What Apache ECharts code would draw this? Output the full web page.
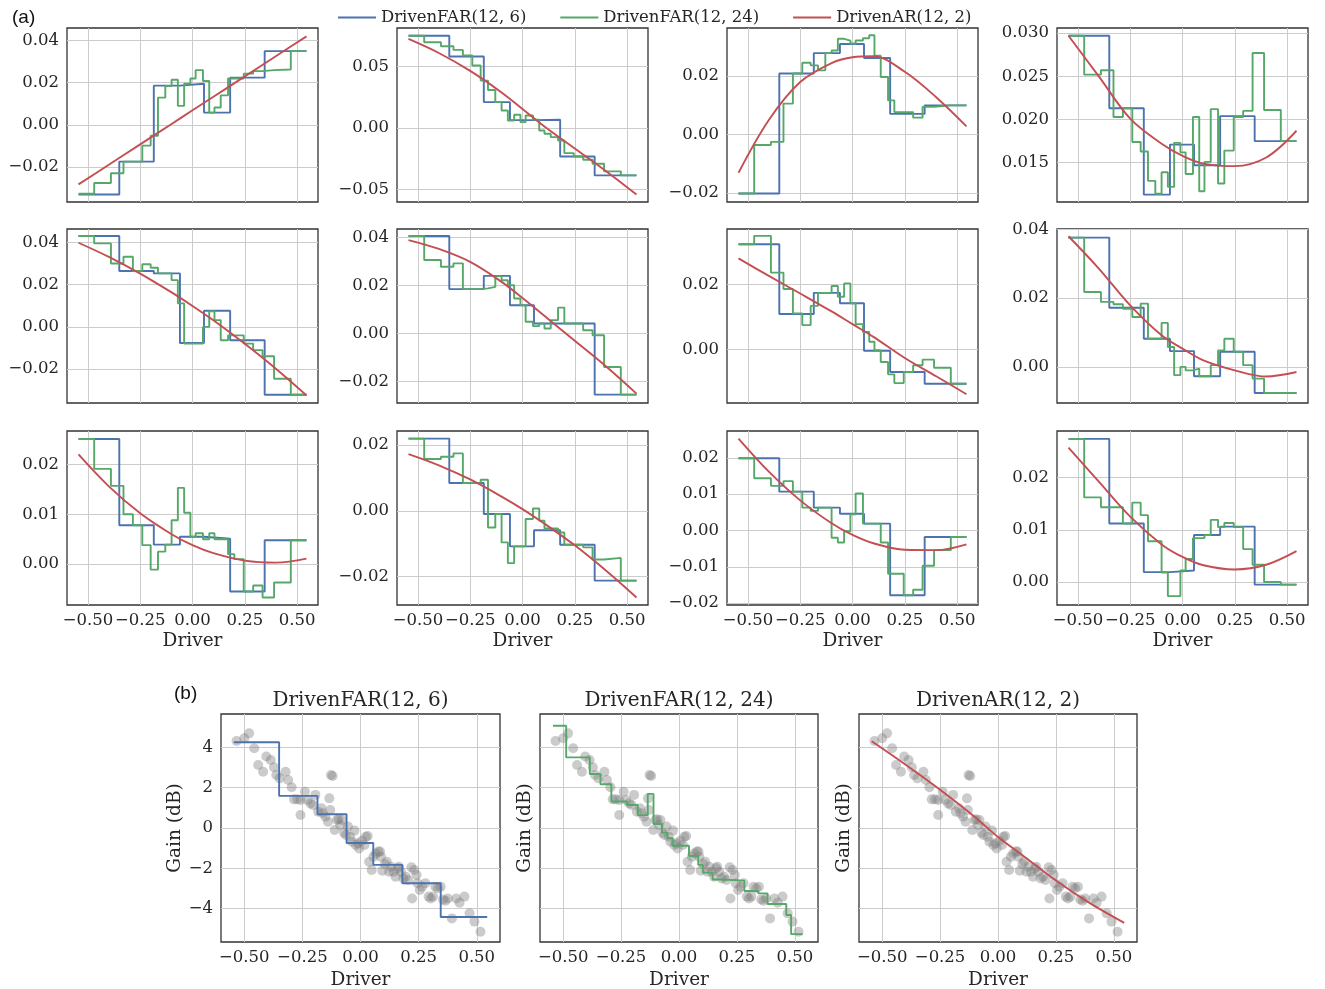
<!DOCTYPE html>
<html>
<head>
<meta charset="utf-8">
<script src="https://cdn.jsdelivr.net/npm/echarts@6/dist/echarts.min.js"></script>
<style>
  html, body { margin: 0; padding: 0; background: #fff; }
  #chart { width: 1325px; height: 989px; }
</style>
</head>
<body>
<div id="chart"></div>
<script>
// series names and tick values
const modelNames = ['DrivenFAR(12, 6)', 'DrivenFAR(12, 24)', 'DrivenAR(12, 2)'];
const xTicks = [-0.5, -0.25, 0, 0.25, 0.5];

// bin edges of the two step models, x samples of the AR fit
const edges6 = [-0.545, -0.35, -0.185, -0.06, 0.055, 0.18, 0.345, 0.545];
const edges24 = [-0.545, -0.47, -0.39, -0.33, -0.285, -0.24, -0.2, -0.165, -0.13, -0.1, -0.07, -0.04, -0.01,
  0.015, 0.05, 0.08, 0.105, 0.135, 0.17, 0.2, 0.245, 0.29, 0.335, 0.39, 0.47, 0.545];
const fitX = [-0.545, -0.4, -0.25, -0.1, 0, 0.1, 0.25, 0.4, 0.545];

// (a) one row per panel, read left to right, top to bottom
const blueSteps = [
  [-0.0331, -0.0175, 0.0186, 0.0195, 0.0058, 0.0224, 0.035],
  [0.075, 0.0581, 0.0211, 0.0065, 0.0068, -0.023, -0.0384],
  [-0.0202, 0.0209, 0.0279, 0.031, 0.0262, 0.0071, 0.01],
  [0.0297, 0.0213, 0.0113, 0.0171, 0.0147, 0.0204, 0.0175],
  [0.043, 0.0264, 0.0253, -0.0076, 0.0076, -0.0063, -0.0321],
  [0.0406, 0.0185, 0.024, 0.0118, 0.0042, 0.0042, -0.0254],
  [0.0323, 0.0109, 0.0174, 0.0142, -0.0004, -0.0069, -0.0105],
  [0.0376, 0.0172, 0.0082, 0.0046, -0.0027, 0.0044, -0.0076],
  [0.0251, 0.0078, 0.0039, 0.0055, 0.0051, -0.0055, 0.0048],
  [0.0219, 0.0084, -0.001, -0.0108, -0.0059, -0.0103, -0.0212],
  [0.0199, 0.0107, 0.0063, 0.0046, 0.0019, -0.0178, -0.0018],
  [0.0274, 0.0112, 0.0019, 0.0022, 0.009, 0.0106, -0.0005]
];
const greenSteps = [
  [-0.0328, -0.0277, -0.023, -0.0175, -0.0175, -0.0099, -0.0052, 0.0129, 0.0184, 0.0214, 0.009, 0.0195, 0.022,
    0.026, 0.0208, 0.0058, 0.0082, 0.014, 0.022, 0.022, 0.0243, 0.0255, 0.026, 0.0263, 0.035],
  [0.075, 0.0697, 0.0665, 0.0635, 0.059, 0.0508, 0.0386, 0.031, 0.0211, 0.0143, 0.0062, 0.0108, 0.0049,
    0.0103, 0.0068, -0.0019, -0.0046, -0.0073, -0.01, -0.0203, -0.023, -0.0257, -0.0289, -0.0351, -0.0384],
  [-0.0202, -0.0036, -0.0025, 0.0106, 0.0209, 0.0246, 0.0237, 0.022, 0.0279, 0.0288, 0.0328, 0.0322, 0.0312,
    0.0322, 0.033, 0.034, 0.027, 0.0197, 0.0117, 0.0077, 0.0077, 0.0058, 0.0095, 0.01, 0.01],
  [0.0297, 0.0252, 0.0257, 0.0203, 0.0213, 0.0174, 0.0163, 0.0129, 0.0114, 0.0139, 0.0122, 0.0173, 0.0162,
    0.0137, 0.0203, 0.0117, 0.0151, 0.0212, 0.0126, 0.0164, 0.0203, 0.021, 0.0277, 0.0211, 0.0175],
  [0.043, 0.0395, 0.03, 0.0332, 0.0264, 0.0296, 0.028, 0.0253, 0.0253, 0.0221, 0.0111, -0.0079, -0.0079,
    -0.0079, 0.0, 0.0074, 0.0032, -0.0063, -0.004, -0.004, -0.0079, -0.011, -0.0139, -0.0245, -0.0321],
  [0.0406, 0.0306, 0.0278, 0.0292, 0.0185, 0.0185, 0.0188, 0.0194, 0.0239, 0.0222, 0.0201, 0.0146, 0.0118,
    0.0049, 0.0031, 0.0042, 0.0021, 0.0056, 0.0108, 0.0042, 0.0042, 0.0014, -0.0007, -0.0139, -0.0254],
  [0.0323, 0.0349, 0.0236, 0.0186, 0.0111, 0.0075, 0.0134, 0.0174, 0.0174, 0.0195, 0.0162, 0.0203, 0.0142,
    0.0078, 0.0054, 0.0024, -0.0002, -0.0038, -0.0076, -0.0103, -0.0069, -0.0048, -0.0031, -0.0056, -0.0105],
  [0.0376, 0.0218, 0.0189, 0.0182, 0.0169, 0.0145, 0.0184, 0.0082, 0.0082, 0.0128, 0.0058, -0.0024, 0.0,
    -0.001, -0.0005, -0.0027, -0.0027, 0.0005, 0.0048, 0.0082, 0.0044, 0.0005, -0.0034, -0.0076, -0.0076],
  [0.0251, 0.0191, 0.0157, 0.01, 0.0078, 0.0038, -0.0011, 0.0025, 0.0039, 0.0088, 0.0153, 0.0103, 0.0055,
    0.0062, 0.005, 0.0062, 0.005, 0.005, 0.002, 0.001, -0.0055, -0.0043, -0.0067, -0.0037, 0.0048],
  [0.0219, 0.0157, 0.0164, 0.0174, 0.0084, 0.0084, 0.0094, -0.0051, -0.001, -0.0096, -0.0159, -0.0108, -0.0108,
    -0.0025, 0.0007, -0.003, -0.0054, -0.0054, -0.0066, -0.0103, -0.0103, -0.0111, -0.0148, -0.0143, -0.0212],
  [0.0199, 0.0144, 0.0123, 0.0136, 0.0107, 0.0063, 0.0054, 0.0063, 0.0063, -0.002, -0.0033, -0.0002, 0.0045,
    0.0102, 0.0019, 0.0019, 0.0019, -0.0033, -0.0119, -0.0119, -0.0178, -0.0163, -0.0097, -0.0054, -0.0018],
  [0.0274, 0.0162, 0.0143, 0.0143, 0.0112, 0.0152, 0.0128, 0.0078, 0.0078, 0.0018, -0.0027, -0.0027, 0.0022,
    0.0044, 0.0084, 0.0084, 0.009, 0.0119, 0.0105, 0.0113, 0.0105, 0.0063, 0.0033, 0.0, -0.0005]
];
const redFit = [
  [-0.0283, -0.019, -0.0093, 0.0004, 0.0069, 0.0133, 0.023, 0.0327, 0.042],
  [0.0724, 0.061, 0.0465, 0.029, 0.0155, 0.002, -0.0165, -0.035, -0.054],
  [-0.0131, 0.005, 0.018, 0.0245, 0.0265, 0.0268, 0.0215, 0.0128, 0.0028],
  [0.0297, 0.025, 0.0201, 0.0172, 0.0158, 0.0149, 0.0146, 0.0156, 0.0187],
  [0.0398, 0.0331, 0.0252, 0.0163, 0.0099, 0.0031, -0.008, -0.0199, -0.0324],
  [0.0389, 0.0352, 0.0298, 0.0215, 0.0148, 0.0077, -0.003, -0.0137, -0.025],
  [0.028, 0.0226, 0.0172, 0.0117, 0.0078, 0.0039, -0.0026, -0.0082, -0.0137],
  [0.038, 0.0286, 0.0179, 0.0092, 0.0053, 0.0019, -0.001, -0.0028, -0.0015],
  [0.022, 0.0156, 0.0102, 0.006, 0.0038, 0.0022, 0.0007, 0.0003, 0.0011],
  [0.0172, 0.0138, 0.0095, 0.0043, 0.0005, -0.0037, -0.0105, -0.0182, -0.0263],
  [0.0253, 0.0162, 0.0083, 0.002, -0.0012, -0.0035, -0.0053, -0.0054, -0.0038],
  [0.0257, 0.0192, 0.0125, 0.0072, 0.0048, 0.0032, 0.0024, 0.0033, 0.0059]
];
const yRanges = [
  [-0.0367, 0.046], [-0.06, 0.0813], [-0.0231, 0.0365], [0.01045, 0.0306],
  [-0.036, 0.0463], [-0.0289, 0.0435], [-0.0164, 0.037], [-0.0105, 0.0401],
  [-0.0082, 0.0267], [-0.0286, 0.0242], [-0.0205, 0.0274], [-0.0044, 0.0289]
];
const yTicks = [
  [-0.02, 0, 0.02, 0.04], [-0.05, 0, 0.05], [-0.02, 0, 0.02], [0.015, 0.02, 0.025, 0.03],
  [-0.02, 0, 0.02, 0.04], [-0.02, 0, 0.02, 0.04], [0, 0.02], [0, 0.02, 0.04],
  [0, 0.01, 0.02], [-0.02, 0, 0.02], [-0.02, -0.01, 0, 0.01, 0.02], [0, 0.01, 0.02]
];
const yDigits = [2, 2, 2, 3, 2, 2, 2, 2, 2, 2, 2, 2];

// (b) gain vs driver
const gainX = [-0.533, -0.500, -0.479, -0.457, -0.440, -0.419, -0.405, -0.386, -0.372, -0.362,
  -0.348, -0.322, -0.311, -0.296, -0.286, -0.272, -0.258, -0.239, -0.228, -0.215,
  -0.204, -0.258, -0.194, -0.182, -0.168, -0.162, -0.151, -0.140, -0.130, -0.127,
  -0.120, -0.134, -0.111, -0.101, -0.094, -0.087, -0.080, -0.071, -0.063, -0.054,
  -0.044, -0.037, -0.026, -0.020, -0.011, -0.006, 0.006, 0.017, 0.023, 0.031,
  0.037, 0.048, 0.056, 0.066, 0.077, 0.084, 0.088, 0.094, 0.105, 0.113,
  0.123, 0.131, 0.141, 0.151, 0.160, 0.165, 0.174, 0.184, 0.194, 0.205,
  0.219, 0.222, 0.231, 0.241, 0.245, 0.255, 0.265, 0.279, 0.293, 0.302,
  0.312, 0.322, 0.333, 0.345, 0.355, 0.365, 0.376, 0.393, 0.412, 0.426,
  0.447, 0.469, 0.490, 0.516];
const gainY = [4.31, 4.45, 4.69, 3.95, 3.12, 2.79, 3.54, 3.37, 3.01, 2.63,
  2.46, 2.79, 2.38, 2.02, 1.42, 1.42, 1.39, 1.80, 1.39, 1.22,
  1.14, 0.64, 1.64, 0.81, 0.98, 0.73, 0.56, 0.31, 0.89, 2.63,
  2.58, 1.47, -0.10, 0.40, 0.43, 0.15, 0.40, -0.23, -0.35, 0.07,
  -0.43, -0.68, -0.13, -0.84, -0.76, -1.01, -0.63, -0.84, -0.43, -0.40,
  -1.67, -2.08, -1.42, -1.26, -1.17, -1.17, -1.42, -2.12, -1.79, -1.67,
  -2.17, -1.92, -2.17, -2.41, -2.00, -1.92, -2.17, -2.50, -2.41, -2.58,
  -1.95, -3.49, -2.08, -2.33, -2.74, -3.07, -2.91, -2.74, -3.40, -3.49,
  -3.40, -2.91, -2.99, -2.91, -3.54, -3.60, -3.49, -4.48, -3.49, -3.70,
  -3.40, -4.23, -4.64, -5.14];
const gainBlue = [4.25, 1.59, 0.68, -0.74, -1.83, -2.74, -4.41];
const gainGreenX = [-0.544, -0.487, -0.385, -0.339, -0.292, -0.225, -0.178, -0.135, -0.11, -0.074, -0.05,
  -0.028, 0.043, 0.083, 0.103, 0.145, 0.185, 0.282, 0.342, 0.382, 0.463, 0.484, 0.534];
const gainGreen = [5.07, 3.5, 2.68, 2.17, 1.31, 1.14, 0.64, 1.69, 0.2, -0.23, -0.51, -0.88, -1.39,
  -1.83, -2.21, -2.55, -2.61, -3.12, -3.24, -3.77, -4.31, -5.26];
const gainRed = [4.3, 3.15, 1.9, 0.55, -0.45, -1.3, -2.6, -3.75, -4.7];
const gainTicks = [-4, -2, 0, 2, 4];

const SERIF = 'DejaVu Serif';
const INK = '#262626';
const COLORS = ['#4c72b0', '#55a868', '#c44e52'];

const fmt = (v, d) => v.toFixed(d).replace('-', '\u2212');

// step data: each level held until the next edge, last level repeated at the end
function steps(xs, ys) {
  const pts = ys.map((y, i) => [xs[i], y]);
  pts.push([xs[ys.length], ys[ys.length - 1]]);
  return pts;
}

const grids = [], xAxes = [], yAxes = [], series = [];

function addPanel(left, top, width, height) {
  grids.push({
    left: left, top: top, width: width, height: height,
    show: true, borderColor: '#333', borderWidth: 1.3, backgroundColor: '#fff',
    containLabel: false, outerBoundsMode: 'none'
  });
  return grids.length - 1;
}

function xAxisFor(gi, showLabel, nameGap) {
  return {
    type: 'value', gridIndex: gi, min: -0.6, max: 0.6,
    axisLine: { show: false },
    axisTick: { show: false, customValues: xTicks },
    axisLabel: {
      show: showLabel, customValues: xTicks, margin: 7,
      formatter: v => fmt(v, 2),
      fontFamily: SERIF, fontSize: 16.5, color: INK
    },
    splitLine: { show: true, lineStyle: { color: '#cccccc', width: 1 } },
    name: showLabel ? 'Driver' : '', nameLocation: 'middle', nameGap: nameGap,
    nameTextStyle: { fontFamily: SERIF, fontSize: 18.5, color: INK }
  };
}

function yAxisFor(gi, range, ticks, digits, showLabel, name, nameGap) {
  return {
    type: 'value', gridIndex: gi, min: range[0], max: range[1],
    axisLine: { show: false },
    axisTick: { show: false, customValues: ticks },
    axisLabel: {
      show: showLabel, customValues: ticks, margin: 8,
      formatter: v => fmt(v, digits),
      fontFamily: SERIF, fontSize: 16.5, color: INK
    },
    splitLine: { show: true, lineStyle: { color: '#cccccc', width: 1 } },
    name: name, nameLocation: 'middle', nameGap: nameGap,
    nameTextStyle: { fontFamily: SERIF, fontSize: 18.5, color: INK }
  };
}

function lineSeries(gi, nameIdx, data, extra) {
  return Object.assign({
    type: 'line', name: modelNames[nameIdx], xAxisIndex: gi, yAxisIndex: gi,
    data: data, symbol: 'none', showSymbol: false, animation: false,
    lineStyle: { color: COLORS[nameIdx], width: 1.9 },
    itemStyle: { color: COLORS[nameIdx] },
    emphasis: { disabled: true }, z: 3 + nameIdx
  }, extra || {});
}

// (a) 3 x 4 panels
const colLeft = [67, 397, 727, 1057];
const rowTop = [28, 229, 431];
for (let i = 0; i < 12; i++) {
  const r = Math.floor(i / 4), c = i % 4;
  const gi = addPanel(colLeft[c], rowTop[r], 251, 174);
  xAxes.push(xAxisFor(gi, r === 2, 27));
  yAxes.push(yAxisFor(gi, yRanges[i], yTicks[i], yDigits[i], true, '', 0));
  series.push(lineSeries(gi, 0, steps(edges6, blueSteps[i]), { step: 'end' }));
  series.push(lineSeries(gi, 1, steps(edges24, greenSteps[i]), { step: 'end' }));
  series.push(lineSeries(gi, 2, fitX.map((x, k) => [x, redFit[i][k]]), { smooth: 0.35 }));
}

// (b) 3 panels
const bLeft = [221, 540, 859];
const bWidth = [279, 278, 278];
const bLines = [
  steps(edges6, gainBlue),
  steps(gainGreenX, gainGreen),
  fitX.map((x, k) => [x, gainRed[k]])
];
for (let j = 0; j < 3; j++) {
  const gi = addPanel(bLeft[j], 714, bWidth[j], 228);
  xAxes.push(xAxisFor(gi, true, 29));
  yAxes.push(yAxisFor(gi, [-5.65, 5.65], gainTicks, 0, j === 0, 'Gain (dB)', j === 0 ? 34 : 5));
  series.push({
    type: 'scatter', name: 'data', xAxisIndex: gi, yAxisIndex: gi,
    data: gainX.map((x, k) => [x, gainY[k]]),
    symbolSize: 10, itemStyle: { color: 'rgba(125,125,125,0.5)' },
    emphasis: { disabled: true }, z: 2
  });
  series.push(lineSeries(gi, j, bLines[j], j < 2 ? { step: 'end' } : { smooth: 0.35 }));
}

const graphics = [
  { type: 'text', x: 12, y: 18, style: { text: '(a)', font: '19px "Liberation Sans"', fill: '#111', align: 'left', verticalAlign: 'middle' } },
  { type: 'text', x: 174, y: 694, style: { text: '(b)', font: '19px "Liberation Sans"', fill: '#111', align: 'left', verticalAlign: 'middle' } }
];
for (let j = 0; j < 3; j++) {
  graphics.push({
    type: 'text', x: bLeft[j] + bWidth[j] / 2, y: 701,
    style: { text: modelNames[j], font: '20px "' + SERIF + '"', fill: INK, align: 'center', verticalAlign: 'middle' }
  });
}

const option = {
  animation: false,
  backgroundColor: '#fff',
  legend: {
    data: modelNames.map(n => ({ name: n, icon: 'rect' })),
    top: 4, left: 333, itemWidth: 38, itemHeight: 2, itemGap: 34,
    textStyle: { fontFamily: SERIF, fontSize: 16.5, color: INK }
  },
  graphic: graphics,
  grid: grids,
  xAxis: xAxes,
  yAxis: yAxes,
  series: series
};

const chart = echarts.init(document.getElementById('chart'));
chart.setOption(option);
</script>
</body>
</html>
